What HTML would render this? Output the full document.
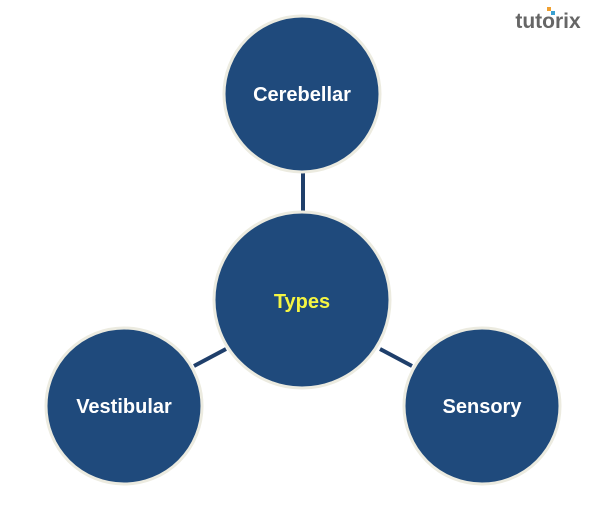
<!DOCTYPE html>
<html><head><style>body{margin:0;background:#fff}</style></head><body>
<svg width="600" height="512" xmlns="http://www.w3.org/2000/svg" style="display:block">
<g stroke="#1f3f6b" stroke-width="4">
<line x1="303" y1="172" x2="303" y2="212"/>
<line x1="194" y1="366" x2="226" y2="349"/>
<line x1="380" y1="349" x2="412" y2="366"/>
</g>
<g fill="#1f4a7c" stroke="#ecebe0" stroke-width="3">
<circle cx="302" cy="94" r="78"/>
<circle cx="302" cy="300" r="88"/>
<circle cx="124" cy="406" r="78"/>
<circle cx="482" cy="406" r="78"/>
</g>
<g font-family="Liberation Sans, sans-serif" font-weight="bold" font-size="20" text-anchor="middle" fill="#fff">
<text x="302" y="101">Cerebellar</text>
<text x="302" y="308" fill="#f5f542">Types</text>
<text x="124" y="413">Vestibular</text>
<text x="482" y="413">Sensory</text>
</g>
<text x="548" y="28" font-family="Liberation Sans, sans-serif" font-weight="bold" font-size="21" fill="#666" text-anchor="middle">tutorix</text>
<rect x="547" y="7" width="4" height="4" fill="#f0a030"/>
<rect x="551" y="11" width="4" height="4" fill="#3aa0d0"/>
</svg>
</body></html>
